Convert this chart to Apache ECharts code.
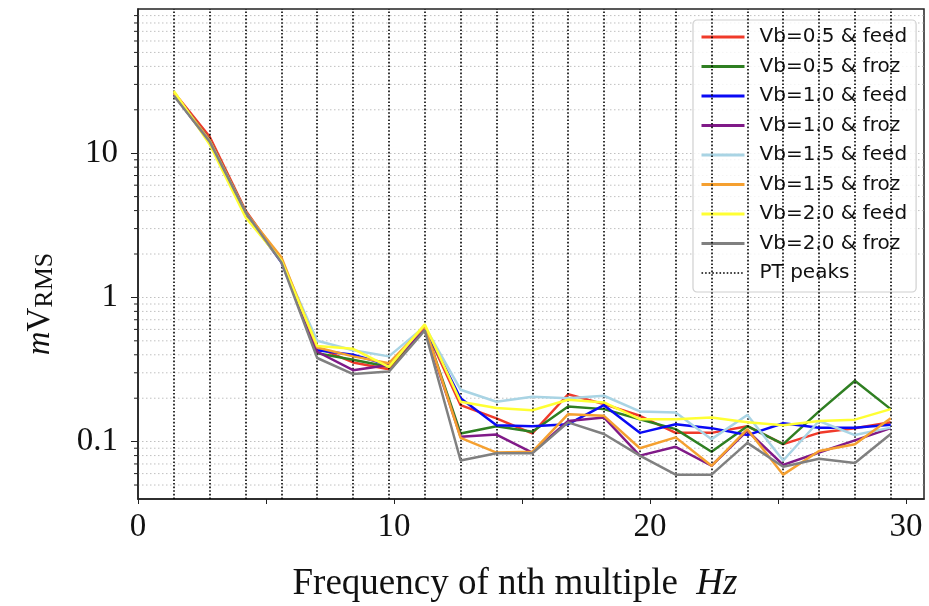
<!DOCTYPE html>
<html>
<head>
<meta charset="utf-8">
<script src="https://cdn.jsdelivr.net/npm/echarts@6/dist/echarts.min.js"></script>
<style>
html,body{margin:0;padding:0;background:#fff;}
#chart{width:929px;height:606px;}
</style>
</head>
<body>
<div id="chart"></div>
<script>
// ---- data ----
const freq = [1.4, 2.8, 4.2, 5.6, 7.0, 8.4, 9.8, 11.2, 12.6, 14.0, 15.4, 16.8, 18.2, 19.6, 21.0, 22.4, 23.8, 25.2, 26.6, 28.0, 29.4];
const ptPeaks = [1.4, 2.8, 4.2, 5.6, 7.0, 8.4, 9.8, 11.2, 12.6, 14.0, 15.4, 16.8, 18.2, 19.6, 21.0, 22.4, 23.8, 25.2, 26.6, 28.0, 29.4];

const vb05feed = [26.5, 13.0, 4.0, 1.8, 0.45, 0.354, 0.318, 0.62, 0.179, 0.145, 0.114, 0.213, 0.182, 0.151, 0.115, 0.115, 0.128, 0.096, 0.115, 0.124, 0.136];
const vb05froz = [26.0, 12.3, 3.9, 1.8, 0.41, 0.37, 0.33, 0.62, 0.114, 0.128, 0.117, 0.175, 0.168, 0.143, 0.122, 0.085, 0.128, 0.096, 0.162, 0.264, 0.168];
const vb10feed = [25.5, 12.0, 3.8, 1.75, 0.43, 0.40, 0.34, 0.62, 0.20, 0.13, 0.128, 0.132, 0.179, 0.115, 0.132, 0.124, 0.111, 0.134, 0.125, 0.125, 0.131];
const vb10froz = [25.5, 12.0, 3.8, 1.8, 0.42, 0.313, 0.34, 0.60, 0.108, 0.112, 0.084, 0.139, 0.147, 0.080, 0.092, 0.068, 0.119, 0.069, 0.084, 0.102, 0.124];
const vb15feed = [26.0, 12.2, 3.9, 1.8, 0.50, 0.43, 0.39, 0.63, 0.229, 0.189, 0.205, 0.200, 0.208, 0.162, 0.159, 0.104, 0.153, 0.074, 0.139, 0.111, 0.125];
const vb15froz = [26.0, 12.2, 3.9, 1.9, 0.45, 0.39, 0.35, 0.63, 0.106, 0.084, 0.085, 0.155, 0.151, 0.090, 0.107, 0.068, 0.122, 0.059, 0.086, 0.096, 0.145];
const vb20feed = [27.0, 11.5, 3.6, 1.8, 0.46, 0.44, 0.33, 0.65, 0.189, 0.171, 0.165, 0.195, 0.187, 0.143, 0.143, 0.147, 0.136, 0.130, 0.139, 0.142, 0.168];
const vb20froz = [25.0, 12.0, 3.9, 1.75, 0.38, 0.294, 0.306, 0.59, 0.074, 0.083, 0.083, 0.136, 0.113, 0.080, 0.059, 0.059, 0.098, 0.067, 0.076, 0.071, 0.113];

const seriesNames = ['Vb=0.5 & feed', 'Vb=0.5 & froz', 'Vb=1.0 & feed', 'Vb=1.0 & froz', 'Vb=1.5 & feed', 'Vb=1.5 & froz', 'Vb=2.0 & feed', 'Vb=2.0 & froz'];
const seriesValues = [vb05feed, vb05froz, vb10feed, vb10froz, vb15feed, vb15froz, vb20feed, vb20froz];
const seriesColors = ['#f03a2a', '#2f7f22', '#0a0af5', '#801a88', '#a9d4e4', '#f5a030', '#ffff33', '#808080'];
const ptName = 'PT peaks';

const xTickValues = [0, 5, 10, 15, 20, 25, 30];
const xLabelValues = [0, 10, 20, 30];
const yLabelValues = [0.1, 1, 10];
const yMinorValues = [0.05, 0.06, 0.07, 0.08, 0.09, 0.2, 0.3, 0.4, 0.5, 0.6, 0.7, 0.8, 0.9, 2, 3, 4, 5, 6, 7, 8, 9, 20, 30, 40, 50, 60, 70, 80, 90];
const xMin = 0, xMax = 30.7, yMin = 0.04, yMax = 100;

// ---- chart ----
const chart = echarts.init(document.getElementById('chart'), null, {renderer: 'canvas'});
const serif = 'Liberation Serif';
const gridColor = '#c0c0c0';
const ptStyle = {color: '#000', width: 1.6, type: [1.6, 2]};

const series = [];
series.push({
  name: ptName,
  type: 'line',
  data: [],
  symbol: 'none',
  z: 1,
  lineStyle: ptStyle,
  itemStyle: {color: '#000'},
  markLine: {
    silent: true,
    symbol: ['none', 'none'],
    label: {show: false},
    lineStyle: ptStyle,
    emphasis: {disabled: true},
    data: ptPeaks.map(x => ({xAxis: x}))
  }
});
series.push({
  name: 'minor',
  type: 'custom',
  silent: true,
  z: 0,
  clip: false,
  data: yMinorValues.map(v => [xMin, v]),
  renderItem: function (params, api) {
    const v = api.value(1);
    const l = api.coord([xMin, v]);
    const r = api.coord([xMax, v]);
    return {
      type: 'group',
      children: [
        {type: 'line', shape: {x1: l[0], y1: l[1], x2: r[0], y2: r[1]},
         style: {stroke: gridColor, lineWidth: 1, lineDash: [1.5, 2.5]}},
        {type: 'line', shape: {x1: l[0] - 4, y1: l[1], x2: l[0], y2: l[1]},
         style: {stroke: '#222', lineWidth: 1}}
      ]
    };
  }
});
seriesNames.forEach((name, i) => {
  series.push({
    name: name,
    type: 'line',
    data: freq.map((f, j) => [f, seriesValues[i][j]]),
    symbol: 'none',
    z: 3 + i,
    color: seriesColors[i],
    lineStyle: {color: seriesColors[i], width: 2.5},
    emphasis: {disabled: true}
  });
});

const legendData = seriesNames.map(n => ({name: n, lineStyle: {width: 3}}))
  .concat([{name: ptName, lineStyle: {width: 1.6, type: [1.6, 2]}}]);

chart.setOption({
  backgroundColor: '#fff',
  animation: false,
  grid: {left: 138, right: 5, top: 9, bottom: 107, containLabel: false, outerBoundsMode: 'none',
    show: true, borderColor: '#222', borderWidth: 1.5, backgroundColor: 'transparent'},
  xAxis: {
    type: 'value', min: xMin, max: xMax, interval: 5,
    axisLine: {show: true, lineStyle: {color: '#222', width: 1.5}},
    axisTick: {show: true, inside: false, length: 5, lineStyle: {color: '#222', width: 1}, customValues: xTickValues},
    axisLabel: {show: true, margin: 12, fontFamily: serif, fontSize: 33, color: '#111', customValues: xLabelValues},
    splitLine: {show: false},
    name: 'Frequency of nth multiple  {i|Hz}',
    nameLocation: 'middle',
    nameGap: 67,
    nameTextStyle: {fontFamily: serif, fontSize: 37, color: '#111', padding: [0, 32, 0, 0],
      rich: {i: {fontFamily: serif, fontSize: 37, fontStyle: 'italic', color: '#111'}}}
  },
  yAxis: {
    type: 'log', logBase: 10, min: yMin, max: yMax,
    axisLine: {show: true, lineStyle: {color: '#222', width: 1.5}},
    axisTick: {show: true, inside: false, length: 7, lineStyle: {color: '#222', width: 1}, customValues: yLabelValues},
    axisLabel: {show: true, margin: 20, fontFamily: serif, fontSize: 33, color: '#111', customValues: yLabelValues,
      formatter: v => String(v)},
    splitLine: {show: true, lineStyle: {color: gridColor, width: 1, type: [1.5, 2.5]}},
    name: '{m|m}{v|V}{s|RMS}',
    nameLocation: 'middle',
    nameGap: 80,
    nameRotate: 90,
    nameTextStyle: {padding: [0, 100, 0, 0],
      rich: {
        m: {fontFamily: serif, fontSize: 33, fontStyle: 'italic', color: '#111', lineHeight: 36},
        v: {fontFamily: serif, fontSize: 33, color: '#111', lineHeight: 36},
        s: {fontFamily: serif, fontSize: 26, color: '#111', lineHeight: 26, padding: [24, 0, 0, 0], verticalAlign: 'bottom'}
      }}
  },
  legend: {
    show: true,
    orient: 'vertical',
    left: 693, top: 20,
    padding: [7, 9, 9, 7],
    itemWidth: 43, itemHeight: 20, itemGap: 9.5,
    backgroundColor: 'rgba(255,255,255,0.82)',
    borderColor: '#d0d0d0', borderWidth: 1.2, borderRadius: 4,
    itemStyle: {opacity: 0},
    textStyle: {fontFamily: 'DejaVu Sans', fontSize: 20, color: '#111', lineHeight: 20, padding: [0, 0, 0, 10]},
    data: legendData,
    selectedMode: false
  },
  series: series
});
</script>
</body>
</html>
